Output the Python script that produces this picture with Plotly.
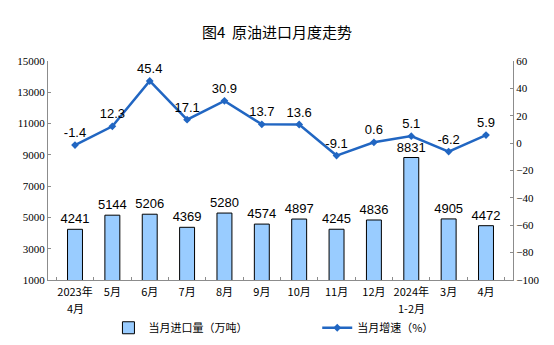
import plotly.graph_objects as go

month_top = ["2023年", "5月", "6月", "7月", "8月", "9月", "10月", "11月", "12月",
             "2024年", "3月", "4月"]
month_sub = ["4月", "", "", "", "", "", "", "", "", "1-2月", "", ""]
imports = [4241, 5144, 5206, 4369, 5280, 4574, 4897, 4245, 4836, 8831, 4905, 4472]
growth = [-1.4, 12.3, 45.4, 17.1, 30.9, 13.7, 13.6, -9.1, 0.6, 5.1, -6.2, 5.9]

months = [t + s for t, s in zip(month_top, month_sub)]

cjk = "Noto Sans CJK SC"
num_font = "Liberation Serif"
lbl_font = "Liberation Sans"
line_color = "#2166C2"
axis_color = "#8C8C8C"

fig = go.Figure()

fig.add_trace(go.Bar(
    x=months, y=imports, name="当月进口量（万吨）", legend="legend",
    marker=dict(color="#99CCFF", line=dict(color="#000000", width=1)),
    width=0.4,
    text=[str(v) for v in imports], textposition="outside",
    constraintext="none",
    textfont=dict(family=lbl_font, size=13, color="#000000"),
    cliponaxis=False,
))

fig.add_trace(go.Scatter(
    x=months, y=growth, name="当月增速（%）", yaxis="y2", legend="legend2",
    mode="lines+markers+text",
    line=dict(color=line_color, width=2.5),
    marker=dict(symbol="diamond", size=6, color=line_color),
    text=[f"{v:.1f}" for v in growth], textposition="top center",
    textfont=dict(family=lbl_font, size=13, color="#000000"),
    cliponaxis=False,
))

# second line of the two-row month labels
for m, sub in zip(months, month_sub):
    if sub:
        fig.add_annotation(
            x=m, xref="x", y=-0.128, yref="paper", yanchor="middle",
            text=sub, showarrow=False,
            font=dict(family=cjk, size=11, color="#000000"),
        )

legend_common = dict(
    orientation="h", yref="container", yanchor="middle", y=0.05,
    font=dict(family=cjk, size=11, color="#000000"),
    itemwidth=30, bgcolor="rgba(0,0,0,0)", borderwidth=0,
)

fig.update_layout(
    width=554, height=345,
    margin=dict(l=48, r=41, t=61, b=65),
    paper_bgcolor="white", plot_bgcolor="white",
    title=dict(text="图4  原油进口月度走势", x=0.5, xanchor="center", y=0.905, yanchor="middle",
               font=dict(family=cjk, size=15, color="#000000")),
    xaxis=dict(
        type="category", showline=True, linecolor=axis_color, linewidth=1,
        ticks="inside", ticklen=3, tickcolor=axis_color, tickson="boundaries",
        tickvals=months, ticktext=month_top,
        tickangle=0, ticklabelstandoff=2, automargin=False,
        tickfont=dict(family=cjk, size=11, color="#000000"),
        showgrid=False,
    ),
    yaxis=dict(
        range=[1000, 15000], dtick=2000, tick0=1000, tickformat="d",
        showline=True, linecolor=axis_color, linewidth=1,
        ticks="inside", ticklen=3, tickcolor=axis_color, automargin=False,
        tickfont=dict(family=num_font, size=11, color="#000000"),
        showgrid=False, zeroline=False,
    ),
    yaxis2=dict(
        range=[-100, 60], dtick=20, tickformat="d", overlaying="y", side="right",
        showline=True, linecolor=axis_color, linewidth=1,
        ticks="inside", ticklen=3, tickcolor=axis_color, automargin=False,
        tickfont=dict(family=num_font, size=11, color="#000000"),
        showgrid=False, zeroline=False,
    ),
    legend=dict(legend_common, x=0.13, xanchor="left"),
    legend2=dict(legend_common, x=0.579, xanchor="left"),
    bargap=0.6,
    showlegend=True,
)

fig.write_html("out.html")
